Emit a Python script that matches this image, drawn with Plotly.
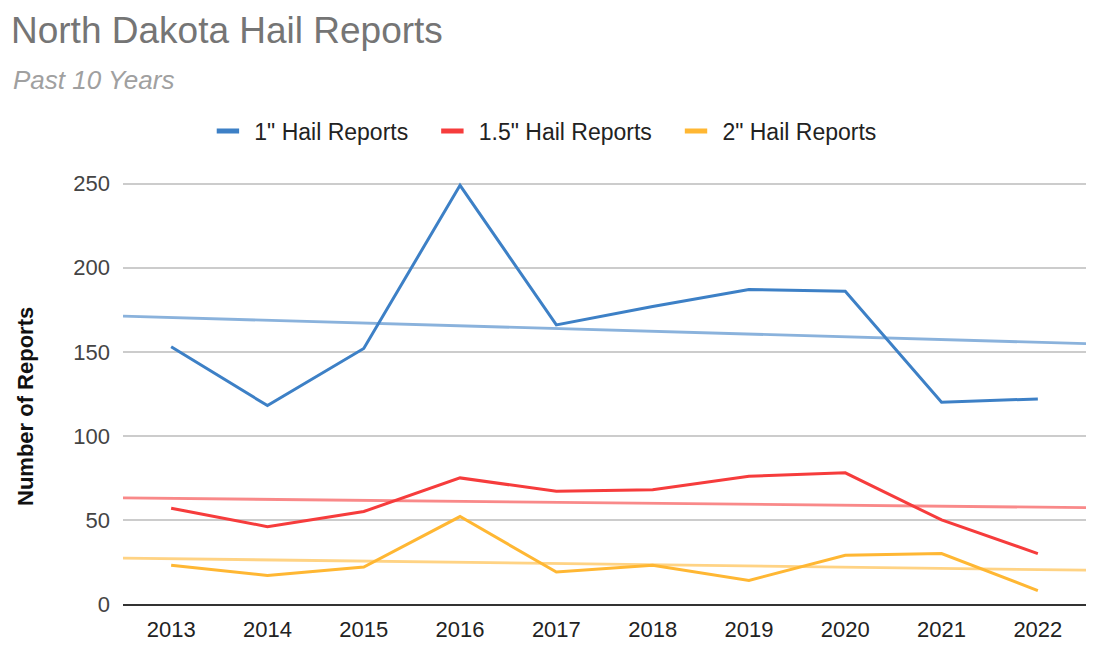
import numpy as np
import plotly.graph_objects as go

# === Data ===
years = [2013, 2014, 2015, 2016, 2017, 2018, 2019, 2020, 2021, 2022]
hail_1in = [153, 118, 152, 249, 166, 177, 187, 186, 120, 122]
hail_15in = [57, 46, 55, 75, 67, 68, 76, 78, 50, 30]
hail_2in = [23, 17, 22, 52, 19, 23, 14, 29, 30, 8]
y_ticks = [0, 50, 100, 150, 200, 250]

series = [
    ('1" Hail Reports', hail_1in, "#3d80c6"),
    ('1.5" Hail Reports', hail_15in, "#f63c3c"),
    ('2" Hail Reports', hail_2in, "#ffb733"),
]

FONT = "Liberation Sans, Arial, sans-serif"
x_lo, x_hi = years[0] - 0.5, years[-1] + 0.5

fig = go.Figure()

# linear trend lines (drawn first so the data lines sit on top)
for name, vals, color in series:
    slope, icept = np.polyfit(years, vals, 1)
    fig.add_trace(go.Scatter(
        x=[x_lo, x_hi],
        y=[slope * x_lo + icept, slope * x_hi + icept],
        mode="lines",
        line=dict(color=color, width=2.8),
        opacity=0.6,
        showlegend=False,
        hoverinfo="skip",
    ))

for name, vals, color in series:
    fig.add_trace(go.Scatter(
        x=years, y=vals, name=name, mode="lines",
        line=dict(color=color, width=3),
        showlegend=False,
    ))

# legend-only entries, so the key shows a short thick bar like the original
for name, vals, color in series:
    fig.add_trace(go.Scatter(
        x=[None], y=[None], name="\u00a0" + name + "\u00a0\u00a0\u00a0",
        mode="markers",
        marker=dict(symbol="line-ew-open", size=22, color=color,
                    line=dict(color=color, width=5)),
    ))

fig.update_layout(
    width=1108, height=659,
    margin=dict(l=115, r=30, t=174, b=63),
    paper_bgcolor="white", plot_bgcolor="white",
    font=dict(family=FONT, size=22, color="#222222"),
    title=dict(
        text="North Dakota Hail Reports",
        font=dict(family=FONT, size=37, color="#757575"),
        x=3 / 1108, xref="container", xanchor="left",
        y=1 - 22 / 659, yref="container", yanchor="middle",
    ),
    legend=dict(
        orientation="h", x=0.448, xanchor="center",
        y=1 + (174 - 123) / 422, yanchor="middle",
        font=dict(size=23, color="#222222"),
        itemwidth=30,
    ),
    annotations=[
        dict(
            text="<i>Past 10 Years</i>",
            xref="paper", yref="paper",
            x=-112 / 963, y=1 + (174 - 72) / 422,
            xanchor="left", yanchor="middle", showarrow=False,
            font=dict(family=FONT, size=26, color="#a0a0a0"),
        ),
        dict(
            text="<b>Number of Reports</b>",
            xref="paper", yref="paper",
            x=(17 - 115) / 963, y=(596 - 399) / 422,
            xanchor="center", yanchor="middle", showarrow=False,
            textangle=-90,
            font=dict(family=FONT, size=22, color="#111111"),
        ),
    ],
)

fig.update_xaxes(
    range=[x_lo, x_hi], tickvals=years, ticktext=[str(y) for y in years],
    showgrid=False, zeroline=False,
    showline=True, linecolor="#333333", linewidth=2,
    tickfont=dict(size=22, color="#222222"),
    ticks="", ticklen=0, ticklabelstandoff=5,
)
fig.update_yaxes(
    range=[0, 251], tickvals=y_ticks,
    showgrid=True, gridcolor="#cccccc", gridwidth=1.5,
    zeroline=False, showline=False,
    tickfont=dict(size=22, color="#444444"),
    ticks="", ticklabelstandoff=12,
)

fig.write_html("out.html")
